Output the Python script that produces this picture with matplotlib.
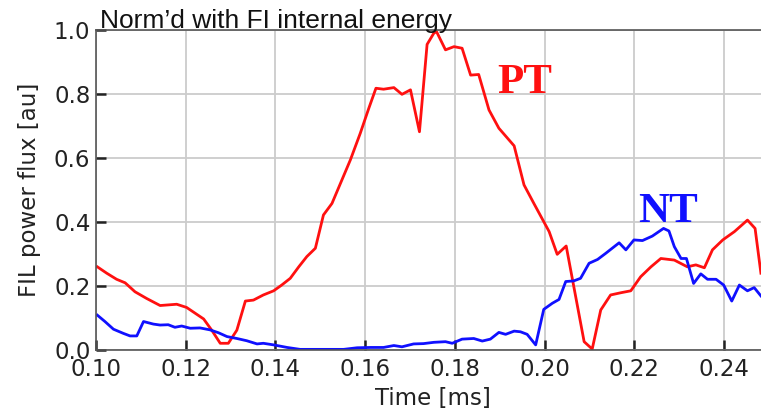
import numpy as np
import matplotlib
matplotlib.use("Agg")
import matplotlib.pyplot as plt

# PT power flux, normalised
pt_t = [0.1003, 0.1024, 0.1046, 0.1065, 0.1087, 0.1113, 0.1143, 0.1180, 0.1202,
        0.1240, 0.1258, 0.1277, 0.1295, 0.1314, 0.1333, 0.1351, 0.1373, 0.1396,
        0.1414, 0.1433, 0.1452, 0.1470, 0.1489, 0.1507, 0.1526, 0.1545, 0.1567,
        0.1589, 0.1608, 0.1624, 0.1641, 0.1664, 0.1682, 0.1701, 0.1721, 0.1738,
        0.1753, 0.1759, 0.1779, 0.1798, 0.1816, 0.1835, 0.1853, 0.1876, 0.1898,
        0.1932, 0.1954, 0.1976, 0.2010, 0.2028, 0.2048, 0.2065, 0.2088, 0.2106,
        0.2125, 0.2147, 0.2170, 0.2192, 0.2214, 0.2237, 0.2259, 0.2289, 0.2318,
        0.2337, 0.2356, 0.2374, 0.2397, 0.2423, 0.2452, 0.2469, 0.2482]
pt_v = [0.260, 0.240, 0.221, 0.210, 0.182, 0.161, 0.139, 0.143, 0.133,
        0.097, 0.062, 0.021, 0.021, 0.062, 0.153, 0.156, 0.172, 0.185,
        0.203, 0.224, 0.260, 0.292, 0.318, 0.422, 0.458, 0.521, 0.594,
        0.677, 0.755, 0.818, 0.815, 0.820, 0.799, 0.813, 0.682, 0.955,
        0.990, 0.995, 0.938, 0.948, 0.943, 0.859, 0.861, 0.750, 0.693,
        0.638, 0.516, 0.458, 0.370, 0.299, 0.325, 0.198, 0.026, 0.003,
        0.125, 0.172, 0.179, 0.185, 0.229, 0.260, 0.286, 0.281, 0.260,
        0.266, 0.257, 0.313, 0.344, 0.370, 0.406, 0.380, 0.240]

# NT power flux, normalised
nt_t = [0.1003, 0.1020, 0.1039, 0.1061, 0.1076, 0.1091, 0.1106, 0.1128, 0.1143,
        0.1161, 0.1176, 0.1191, 0.1210, 0.1232, 0.1254, 0.1273, 0.1292, 0.1314,
        0.1336, 0.1359, 0.1373, 0.1396, 0.1426, 0.1455, 0.1507, 0.1552, 0.1582,
        0.1612, 0.1641, 0.1664, 0.1682, 0.1708, 0.1730, 0.1753, 0.1779, 0.1794,
        0.1816, 0.1842, 0.1861, 0.1879, 0.1898, 0.1913, 0.1932, 0.1946, 0.1961,
        0.1980, 0.1998, 0.2017, 0.2032, 0.2047, 0.2065, 0.2080, 0.2099, 0.2118,
        0.2136, 0.2166, 0.2181, 0.2199, 0.2218, 0.2240, 0.2265, 0.2277, 0.2289,
        0.2304, 0.2316, 0.2332, 0.2348, 0.2363, 0.2382, 0.2399, 0.2417, 0.2434,
        0.2452, 0.2467, 0.2482]
nt_v = [0.109, 0.089, 0.065, 0.052, 0.044, 0.044, 0.089, 0.081, 0.078,
        0.079, 0.071, 0.075, 0.068, 0.069, 0.063, 0.054, 0.042, 0.036,
        0.029, 0.019, 0.021, 0.016, 0.008, 0.002, 0.002, 0.002, 0.007,
        0.008, 0.008, 0.014, 0.010, 0.019, 0.020, 0.024, 0.026, 0.021,
        0.034, 0.036, 0.028, 0.034, 0.055, 0.049, 0.059, 0.057, 0.049,
        0.016, 0.127, 0.146, 0.158, 0.214, 0.216, 0.224, 0.271, 0.283,
        0.302, 0.335, 0.313, 0.344, 0.342, 0.356, 0.380, 0.372, 0.323,
        0.286, 0.286, 0.208, 0.238, 0.221, 0.221, 0.203, 0.153, 0.203,
        0.185, 0.195, 0.169]

xticks = [0.10, 0.12, 0.14, 0.16, 0.18, 0.20, 0.22, 0.24]
yticks = [0.0, 0.2, 0.4, 0.6, 0.8, 1.0]

fig = plt.figure(figsize=(7.61, 4.11), dpi=100)
ax = fig.add_axes([0.1261, 0.1484, 0.8844, 0.7786])

ax.plot(pt_t, pt_v, color="#ff1010", lw=2.0)
ax.plot(nt_t, nt_v, color="#1010ff", lw=2.0)

ax.set_xlim(0.10, 0.25)
ax.set_ylim(0.0, 1.0)
ax.set_xticks(xticks)
ax.set_xticklabels([f"{t:.2f}" for t in xticks])
ax.set_yticks(yticks)
ax.set_yticklabels([f"{v:.1f}" for v in yticks])
ax.tick_params(direction="in", length=7, width=1.8, labelsize=16.5,
               colors="#222222")
ax.tick_params(axis="x", pad=6)
ax.tick_params(axis="y", pad=4)
ax.grid(color="#cccccc", lw=1.3)
ax.set_axisbelow(True)
ax.spines["right"].set_visible(False)
for s in ["top", "left", "bottom"]:
    ax.spines[s].set_color("#555555")
    ax.spines[s].set_linewidth(1.2)

ax.set_xlabel("Time [ms]", fontsize=16.5, color="#222222", labelpad=4)
ax.set_ylabel("FIL power flux [au]", fontsize=16.5, color="#222222", labelpad=9)

ax.text(0.1895, 0.803, "PT", color="#ff1010", fontsize=31,
        family="Liberation Serif", weight="bold")
ax.text(0.2208, 0.400, "NT", color="#1010ff", fontsize=31,
        family="Liberation Serif", weight="bold")

fig.text(100 / 761, 1 - 28 / 411, "Norm\u2019d with FI internal energy",
         family="Liberation Sans", fontsize=19, color="#111111", va="baseline")

fig.savefig("out.png", dpi=100)
